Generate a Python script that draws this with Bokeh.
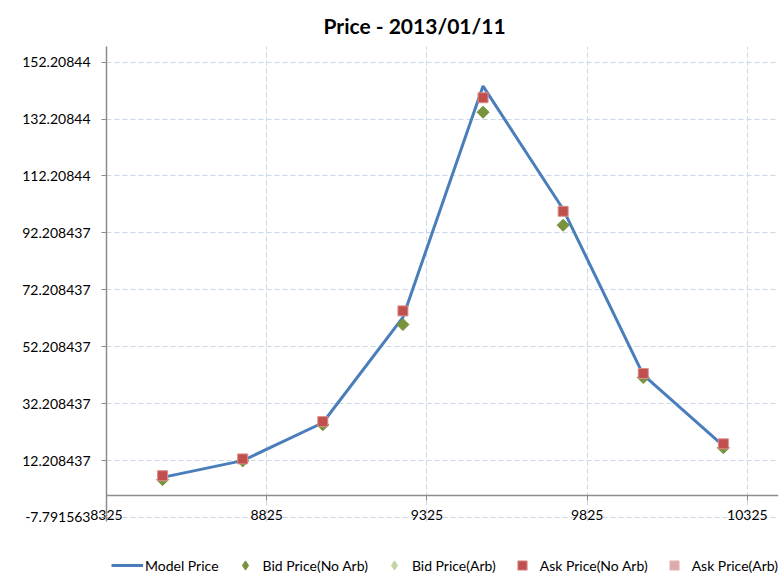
import math
from bokeh.plotting import figure
from bokeh.layouts import column
from bokeh.models import Range1d, FixedTicker, Legend, LegendItem, LinearAxis
from bokeh.embed import file_html
from bokeh.resources import INLINE

nan = float("nan")

# ---- data ----
strikes = [8500, 8750, 9000, 9250, 9500, 9750, 10000, 10250]
model_price = [6.3, 12.2, 25.5, 62.5, 143.8, 100.5, 42.3, 17.4]
bid_no_arb = [5.5, 12.1, 24.8, 60.0, 134.6, 94.9, 41.4, 16.7]
ask_no_arb = [6.9, 12.8, 25.9, 64.8, 139.7, 99.8, 42.8, 18.1]
bid_arb = [nan] * len(strikes)   # no arbitrage-adjusted quotes shown
ask_arb = [nan] * len(strikes)

x_ticks = [8325, 8825, 9325, 9825, 10325]
y_ticks = [-7.791563, 12.208437, 32.208437, 52.208437, 72.208437,
           92.208437, 112.208437, 132.208437, 152.208437]
y_tick_labels = ["-7.791563", "12.208437", "32.208437", "52.208437", "72.208437",
                 "92.208437", "112.20844", "132.20844", "152.20844"]

title_text = "Price - 2013/01/11"
series_names = ["Model Price", "Bid Price(No Arb)", "Bid Price(Arb)",
                "Ask Price(No Arb)", "Ask Price(Arb)"]

FONT = "Lato"
GRID = "#C9D7EA"
AXIS = "#8C8C8C"
BLUE = "#4A7EBB"
GREEN = "#77933C"
GREEN_L = "#C4D5A5"
RED = "#C0504D"
RED_EDGE = "#D98F8D"
RED_L = "#DDAAAA"
RED_L_EDGE = "#E6BDBD"

p = figure(frame_width=672, frame_height=475, output_backend="svg", toolbar_location=None,
           x_range=Range1d(8325, 10422), y_range=Range1d(-9.2, 157.7),
           min_border_left=106, min_border_right=5, min_border_top=46,
           min_border_bottom=32, title=title_text)
p.outline_line_color = None
p.background_fill_color = "white"
p.border_fill_color = "white"

p.title.align = "left"
p.title.offset = 217
p.title.standoff = 17
p.title.text_font = FONT
p.title.text_font_style = "bold"
p.title.text_font_size = "21px"
p.title.text_color = "black"

xt = FixedTicker(ticks=x_ticks)
yt = FixedTicker(ticks=y_ticks)

# x tick labels (low position, at the bottom of the plot area)
xb = p.below[0]
xb.ticker = xt
xb.axis_line_color = None
xb.major_tick_line_color = None
xb.minor_tick_line_color = None
xb.major_tick_out = 0
xb.major_tick_in = 0
xb.major_label_standoff = -12
xb.major_label_text_font = FONT
xb.major_label_text_font_size = "14px"
xb.major_label_text_color = "black"

# x axis line crossing at y = 0
xa = LinearAxis(ticker=xt, fixed_location=0)
xa.axis_line_color = AXIS
xa.axis_line_width = 1.5
xa.major_tick_line_color = AXIS
xa.major_tick_out = 5
xa.major_tick_in = 0
xa.minor_tick_line_color = None
xa.major_label_text_alpha = 0
xa.major_label_text_font_size = "1px"
xa.major_label_standoff = 0
p.add_layout(xa, "below")

ya = p.left[0]
ya.ticker = yt
ya.major_label_overrides = dict(zip(y_ticks, y_tick_labels))
ya.axis_line_color = AXIS
ya.axis_line_width = 1.5
ya.major_tick_line_color = AXIS
ya.major_tick_out = 5
ya.major_tick_in = 0
ya.minor_tick_line_color = None
ya.major_label_standoff = 11
ya.major_label_text_font = FONT
ya.major_label_text_font_size = "14px"
ya.major_label_text_color = "black"

p.xgrid.ticker = xt
p.ygrid.ticker = yt
for g in (p.xgrid[0], p.ygrid[0]):
    g.grid_line_color = GRID
    g.grid_line_dash = "5 3"
    g.grid_line_width = 1

p.line(strikes, model_price, line_color=BLUE, line_width=3)
p.scatter(strikes, bid_no_arb, marker="square", angle=math.pi / 4, size=8.5,
          fill_color=GREEN, line_color=GREEN)
p.scatter(strikes, bid_arb, marker="square", angle=math.pi / 4, size=8.5,
          fill_color=GREEN_L, line_color=GREEN_L)
p.scatter(strikes, ask_no_arb, marker="square", size=10,
          fill_color=RED, line_color=RED_EDGE)
p.scatter(strikes, ask_arb, marker="square", size=10,
          fill_color=RED_L, line_color=RED_L_EDGE)

# ---- legend strip under the chart (keys only, no data points of their own) ----
lf = figure(width=783, height=24, output_backend="svg", toolbar_location=None,
            x_axis_location=None, y_axis_location=None, min_border=0,
            x_range=Range1d(0, 1), y_range=Range1d(0, 1))
lf.outline_line_color = None
lf.xgrid.visible = False
lf.ygrid.visible = False
k_model = lf.line(strikes, bid_arb, line_color=BLUE, line_width=3)
k_bid = lf.scatter(strikes, bid_arb, marker="diamond", size=10,
                   fill_color=GREEN, line_color=GREEN)
k_bid_arb = lf.scatter(strikes, bid_arb, marker="diamond", size=10,
                       fill_color=GREEN_L, line_color=GREEN_L)
k_ask = lf.scatter(strikes, ask_arb, marker="square", size=10,
                   fill_color=RED, line_color=RED_EDGE)
k_ask_arb = lf.scatter(strikes, ask_arb, marker="square", size=10,
                       fill_color=RED_L, line_color=RED_L_EDGE)

legend = Legend(items=[LegendItem(label=n, renderers=[r]) for n, r in
                       zip(series_names, [k_model, k_bid, k_bid_arb, k_ask, k_ask_arb])],
                orientation="horizontal", location="right", padding=0, margin=0,
                spacing=10, glyph_width=32, glyph_height=23, label_standoff=2,
                label_text_font=FONT, label_text_font_size="14px",
                label_text_color="black", border_line_color=None,
                background_fill_alpha=0)
lf.add_layout(legend)

layout = column(p, lf, spacing=0)
open("out.html", "w").write(file_html(layout, INLINE))
